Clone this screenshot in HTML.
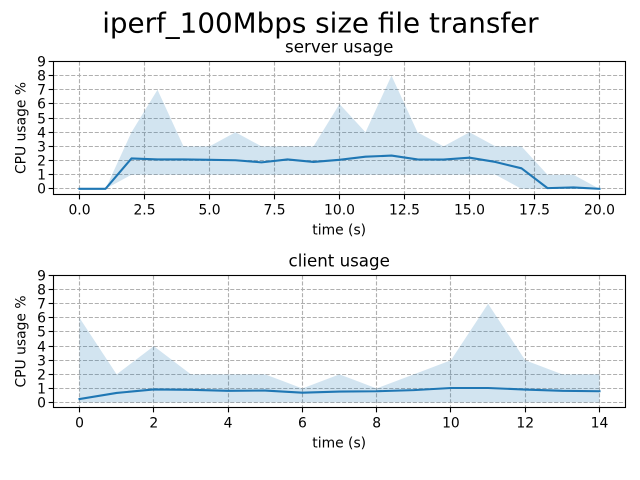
<!DOCTYPE html>
<html>
<head>
<meta charset="utf-8">
<title>iperf_100Mbps size file transfer</title>
<style>
html,body{margin:0;padding:0;background:#fff;}
svg{display:block;}
text{font-family:"DejaVu Sans","Liberation Sans",sans-serif;fill:#000;}
</style>
</head>
<body>
<svg id="fig" xmlns="http://www.w3.org/2000/svg" width="640" height="480" viewBox="0 0 640 480">
<rect x="0" y="0" width="640" height="480" fill="#fff"/>
<text x="320.4" y="32.5" font-size="27.78" text-anchor="middle">iperf_100Mbps size file transfer</text>
</svg>
<script>
var yTicks = [0, 1, 2, 3, 4, 5, 6, 7, 8, 9];

var serverTime = [0, 1, 2, 3, 4, 5, 6, 7, 8, 9, 10, 11, 12, 13, 14, 15, 16, 17, 18, 19, 20];
var serverMean = [0, 0, 2.15, 2.08, 2.08, 2.05, 2.02, 1.87, 2.08, 1.9, 2.05, 2.27, 2.35, 2.08, 2.07, 2.2, 1.9, 1.45, 0.05, 0.1, 0];
var serverMax = [0, 0, 4, 7, 3, 3, 4, 3, 3, 3, 6, 4, 8, 4, 3, 4, 3, 3, 1, 1, 0];
var serverMin = [0, 0, 1, 1, 1, 1, 1, 1, 1, 1, 1, 1, 1, 1, 1, 1, 1, 0, 0, 0, 0];
var serverXTicks = [0, 2.5, 5, 7.5, 10, 12.5, 15, 17.5, 20];
var serverXLabels = ['0.0', '2.5', '5.0', '7.5', '10.0', '12.5', '15.0', '17.5', '20.0'];

var clientTime = [0, 1, 2, 3, 4, 5, 6, 7, 8, 9, 10, 11, 12, 13, 14];
var clientMean = [0.25, 0.68, 0.93, 0.9, 0.83, 0.85, 0.7, 0.78, 0.8, 0.88, 1.03, 1.03, 0.92, 0.83, 0.8];
var clientMax = [6, 2, 4, 2, 2, 2, 1, 2, 1, 2, 3, 7, 3, 2, 2];
var clientMin = [0, 0, 0, 0, 0, 0, 0, 0, 0, 0, 0, 0, 0, 0, 0];
var clientXTicks = [0, 2, 4, 6, 8, 10, 12, 14];
var clientXLabels = ['0', '2', '4', '6', '8', '10', '12', '14'];

var NS = 'http://www.w3.org/2000/svg';
var fig = document.getElementById('fig');

function make(tag, attrs, parent) {
  var el = document.createElementNS(NS, tag);
  for (var k in attrs) el.setAttribute(k, attrs[k]);
  parent.appendChild(el);
  return el;
}

function dataRange(values, margin) {
  var lo = Math.min.apply(null, values);
  var hi = Math.max.apply(null, values);
  var pad = (hi - lo) * margin;
  return [lo - pad, hi + pad];
}

function drawPanel(name, title, top, bottom, t, mean, hi, lo, xTicks, xLabels) {
  var left = 53.5, right = 625.5;
  var xr = dataRange(t, 0.05);
  var yMin = dataRange(hi.concat(lo), 0.05)[0];
  var yMax = yTicks[yTicks.length - 1];
  function xs(v) { return left + (v - xr[0]) / (xr[1] - xr[0]) * (right - left); }
  function ys(v) { return bottom - (v - yMin) / (yMax - yMin) * (bottom - top); }

  var g = make('g', {}, fig);
  
  

  xTicks.forEach(function (v, i) {
    var x = Math.round(xs(v) - 0.5) + 0.5;
    var line = make('line', {x1: x, x2: x, y1: top, y2: bottom, stroke: '#b0b0b0', 'stroke-width': 1.11, 'stroke-dasharray': '4.11 1.78'}, g);
    
    
    var tick = make('line', {x1: x, x2: x, y1: bottom, y2: bottom + 4.86, stroke: '#000', 'stroke-width': 1.11}, g);
    
    
    var label = make('text', {x: xs(v), y: bottom + 20, 'font-size': 13.89, 'text-anchor': 'middle'}, g);
    
    
    label.textContent = xLabels[i];
  });

  yTicks.forEach(function (v) {
    var y = Math.round(ys(v) - 0.5) + 0.5;
    var line = make('line', {x1: left, x2: right, y1: y, y2: y, stroke: '#b0b0b0', 'stroke-width': 1.11, 'stroke-dasharray': '4.11 1.78'}, g);
    
    
    var tick = make('line', {x1: left - 4.86, x2: left, y1: y, y2: y, stroke: '#000', 'stroke-width': 1.11}, g);
    
    
    var label = make('text', {x: 46, y: y + 5, 'font-size': 13.89, 'text-anchor': 'end'}, g);
    
    
    label.textContent = String(v);
  });

  var upper = t.map(function (v, i) { return xs(v).toFixed(2) + ',' + ys(hi[i]).toFixed(2); });
  var lower = t.map(function (v, i) { return xs(v).toFixed(2) + ',' + ys(lo[i]).toFixed(2); }).reverse();
  var band = make('polygon', {points: upper.concat(lower).join(' '), fill: '#1f77b4', 'fill-opacity': 0.2}, g);
  
  

  var meanPts = t.map(function (v, i) { return xs(v).toFixed(2) + ',' + ys(mean[i]).toFixed(2); });
  var meanLine = make('polyline', {points: meanPts.join(' '), fill: 'none', stroke: '#1f77b4', 'stroke-width': 2.08, 'stroke-linejoin': 'round', 'stroke-linecap': 'square'}, g);
  
  

  var frame = make('rect', {x: left, y: top, width: right - left, height: bottom - top, fill: 'none', stroke: '#000', 'stroke-width': 1.11}, g);
  
  

  var ttl = make('text', {x: (left + right) / 2 - 0.3, y: top - 9, 'font-size': 16.67, 'text-anchor': 'middle'}, g);
  
  
  ttl.textContent = title;

  var xl = make('text', {x: (left + right) / 2 - 0.3, y: bottom + 40, 'font-size': 13.89, 'text-anchor': 'middle'}, g);
  
  
  xl.textContent = 'time (s)';

  var cy = (top + bottom) / 2;
  var yl = make('text', {x: 0, y: 0, transform: 'translate(25.5 ' + cy + ') rotate(-90)', 'font-size': 13.89, 'text-anchor': 'middle'}, g);
  
  
  yl.textContent = 'CPU usage %';
}

drawPanel('server', 'server usage', 61.5, 194.5, serverTime, serverMean, serverMax, serverMin, serverXTicks, serverXLabels);
drawPanel('client', 'client usage', 275.5, 407.5, clientTime, clientMean, clientMax, clientMin, clientXTicks, clientXLabels);
</script>
</body>
</html>
